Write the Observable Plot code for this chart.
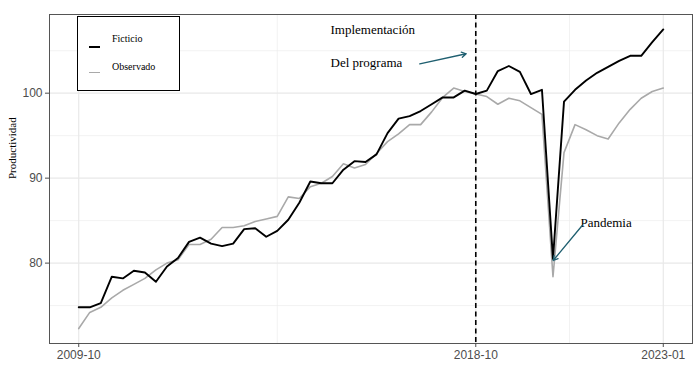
<!DOCTYPE html>
<html><head><meta charset="utf-8">
<script src="https://cdn.jsdelivr.net/npm/d3@7"></script>
<script src="https://cdn.jsdelivr.net/npm/@observablehq/plot@0.6"></script>
<style>
body{margin:0;background:#fff;}
#wrap{position:relative;width:700px;height:374px;}
#legend{position:absolute;left:77px;top:16px;width:101px;height:73px;border:1.5px solid #000;background:#fff;font-family:"Liberation Serif",serif;font-size:10px;color:#000;}
#legend .sw{position:absolute;left:11px;width:11px;height:0;}
#legend .lb{position:absolute;left:34px;line-height:12px;}
</style></head>
<body><div id="wrap"></div>
<script>
const startPeriod = "2009-10";
const ficticio = [74.8,74.8,75.3,78.4,78.2,79.1,78.9,77.8,79.6,80.6,82.5,83.0,82.3,82.0,82.3,84.0,84.1,83.1,83.8,85.1,87.1,89.6,89.4,89.4,91.0,92.0,91.9,92.8,95.3,97.0,97.3,97.9,98.7,99.5,99.5,100.3,99.9,100.3,102.6,103.2,102.5,99.9,100.4,80.5,99.0,100.4,101.5,102.4,103.1,103.8,104.4,104.4,106.0,107.5];
const observado = [72.3,74.2,74.8,75.9,76.8,77.5,78.2,79.2,80.0,80.4,82.2,82.2,82.8,84.2,84.2,84.4,84.9,85.2,85.5,87.8,87.6,89.0,89.4,90.2,91.7,91.2,91.6,92.9,94.3,95.2,96.3,96.3,97.8,99.5,100.6,100.2,99.9,99.6,98.7,99.4,99.1,98.3,97.5,78.4,93.0,96.3,95.7,95.0,94.6,96.5,98.1,99.4,100.2,100.6];
const xTickLabels = ["2009-10","2018-10","2023-01"];
const yTicks = [80,90,100];
const yMinor = [75,85,95,105];
const seriesNames = ["Ficticio","Observado"];
const seriesColors = ["#000000","#a9a9a9"];
const programPeriod = "2018-10";
const eventLabels = ["Implementación","Del programa"];
const pandemicLabel = "Pandemia";
const yLabel = "Productividad";

const [sy, sm] = startPeriod.split("-").map(Number);
const periods = ficticio.map((_, i) => { const m = sm - 1 + 3*i; return `${sy + Math.floor(m/12)}-${String(m%12+1).padStart(2,"0")}`; });
const rowsF = ficticio.map((v,i)=>({i, v, serie: seriesNames[0]}));
const rowsO = observado.map((v,i)=>({i, v, serie: seriesNames[1]}));
const tickIdx = xTickLabels.map(l => periods.indexOf(l));
const xMinor = tickIdx.slice(1).map((t,k)=>(t+tickIdx[k])/2);
const n = periods.length - 1;
const xDom = [-0.05*n, n*1.05];
const ext = d3.extent([...ficticio, ...observado]);
const pad = (ext[1]-ext[0])*0.05;
const yDom = [ext[0]-pad, ext[1]+pad];
const progIdx = periods.indexOf(programPeriod);
const serif = "Liberation Serif";
const teal = "#1f5f70";

const chart = Plot.plot({
  width: 700, height: 374,
  marginLeft: 49, marginRight: 8, marginTop: 14, marginBottom: 31,
  style: {fontFamily: "Liberation Sans", fontSize: "12px", color: "#4d4d4d", background: "white"},
  x: {domain: xDom},
  y: {domain: yDom},
  marks: [
    Plot.ruleY(yMinor, {stroke: "#ececec", strokeWidth: 0.7}),
    Plot.ruleX(xMinor, {stroke: "#ececec", strokeWidth: 0.7}),
    Plot.ruleY(yTicks, {stroke: "#e8e8e8", strokeWidth: 1.2}),
    Plot.ruleX(tickIdx, {stroke: "#e8e8e8", strokeWidth: 1.2}),
    Plot.line(rowsO, {x: "i", y: "v", stroke: seriesColors[1], strokeWidth: 1.6}),
    Plot.line(rowsF, {x: "i", y: "v", stroke: seriesColors[0], strokeWidth: 1.9}),
    Plot.ruleX([progIdx], {stroke: "#000", strokeWidth: 1.6, strokeDasharray: "5,3.5"}),
    Plot.text([eventLabels[0]], {x: 22.83, y: 107.4, text: d=>d, textAnchor: "start", fontFamily: serif, fontSize: 13, fill: "#000"}),
    Plot.text([eventLabels[1]], {x: 22.83, y: 103.55, text: d=>d, textAnchor: "start", fontFamily: serif, fontSize: 13, fill: "#000"}),
    Plot.arrow([0], {x1: 30.92, y1: 103.46, x2: 35.13, y2: 104.64, stroke: teal, strokeWidth: 1.3, headLength: 6}),
    Plot.text([pandemicLabel], {x: 45.49, y: 84.8, text: d=>d, textAnchor: "start", fontFamily: serif, fontSize: 13, fill: "#000"}),
    Plot.arrow([0], {x1: 45.65, y1: 84.43, x2: 43.02, y2: 80.31, stroke: teal, strokeWidth: 1.3, headLength: 6}),
    Plot.text([yLabel], {frameAnchor: "left", dx: -37, rotate: -90, text: d=>d, fontFamily: serif, fontSize: 11, fill: "#000"}),
    Plot.frame({stroke: "#555", strokeWidth: 1}),
    Plot.axisX(tickIdx, {tickFormat: d => periods[d], tickSize: 4, tickPadding: 3, label: null, fontSize: 12}),
    Plot.axisY(yTicks, {tickSize: 4, tickPadding: 3, label: null, fontSize: 12})
  ]
});
const wrap = document.getElementById("wrap");
wrap.appendChild(chart);
const legend = document.createElement("div");
legend.id = "legend";
const ys = [29, 55], ty = [16, 44];
seriesNames.forEach((name, k) => {
  const sw = document.createElement("div");
  sw.className = "sw";
  sw.style.top = ys[k] + "px";
  sw.style.borderTop = (k === 0 ? 2 : 1.6) + "px solid " + seriesColors[k];
  legend.appendChild(sw);
  const lb = document.createElement("div");
  lb.className = "lb";
  lb.style.top = ty[k] + "px";
  lb.textContent = name;
  legend.appendChild(lb);
});
wrap.appendChild(legend);
</script>
</body></html>
